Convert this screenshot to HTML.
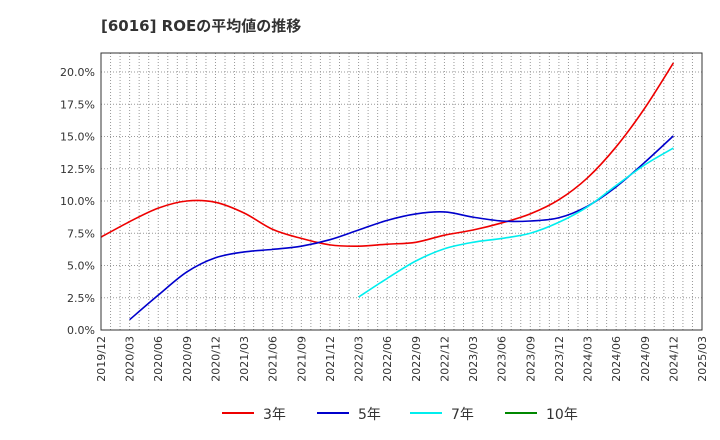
<!DOCTYPE html><html><head><meta charset="utf-8"><style>body{margin:0;background:#fff}svg{display:block;font-family:"DejaVu Sans","Noto Sans CJK JP",sans-serif}</style></head><body>
<svg id="c" width="720" height="440">
<text x="101" y="31" font-size="15" font-weight="bold" fill="#333">[6016]  ROEの平均値の推移</text>
<g id="grid"></g><g id="series"></g>
<rect x="101" y="53" width="601" height="277" fill="none" stroke="#333" stroke-width="1"/>
<g id="legend"></g>
</svg>
<script>
const xLabels=["2019/12","2020/03","2020/06","2020/09","2020/12","2021/03","2021/06","2021/09","2021/12","2022/03","2022/06","2022/09","2022/12","2023/03","2023/06","2023/09","2023/12","2024/03","2024/06","2024/09","2024/12","2025/03"];
const yTicks=[0,2.5,5,7.5,10,12.5,15,17.5,20];
const seriesNames=["3年","5年","7年","10年"];
const seriesColors=["#e00","#00c","#0ee","#080"];
const s3=[7.2,8.4,9.45,10.0,9.9,9.07,7.8,7.1,6.6,6.5,6.65,6.8,7.35,7.75,8.3,9.0,10.1,11.8,14.2,17.2,20.7];
const s5=[null,0.8,2.7,4.5,5.6,6.05,6.25,6.5,7.0,7.75,8.5,9.0,9.15,8.75,8.45,8.45,8.7,9.6,11.1,13.0,15.05];
const s7=[null,null,null,null,null,null,null,null,null,2.55,4.0,5.35,6.3,6.8,7.1,7.5,8.35,9.55,11.2,12.8,14.1];
const s10=[];
const NS="http://www.w3.org/2000/svg";
const L=101,R=702,T=53,B=330;
const xs=i=>L+i*(R-L)/21;
const ys=v=>B-v*(B-72)/20;
function mk(t,a,p){const e=document.createElementNS(NS,t);for(const k in a)e.setAttribute(k,a[k]);p.appendChild(e);return e;}
const g=document.getElementById('grid');
for(let m=1;m<63;m++){const x=L+m*(R-L)/63;const l=mk('line',{x1:x,x2:x,y1:T,y2:B,stroke:'#999','stroke-dasharray':'1,2','stroke-width':1},g);

}
yTicks.forEach(v=>{const y=ys(v);const l=mk('line',{x1:L,x2:R,y1:y,y2:y,stroke:'#999','stroke-dasharray':'1,2'},g);


const t=mk('text',{x:L-6,y:y+4,'text-anchor':'end','font-size':11,fill:'#333'},g);t.textContent=v.toFixed(1)+'%';

});
xLabels.forEach((s,i)=>{const x=xs(i);const t=mk('text',{transform:`translate(${x+4},${B+6}) rotate(-90)`,'text-anchor':'end','font-size':11,fill:'#333'},g);t.textContent=s;

});
function path(arr){const p=[];arr.forEach((v,i)=>{if(v!=null)p.push([xs(i),ys(v)]);});if(p.length<2)return '';
let d=`M${p[0][0]},${p[0][1]}`;for(let i=0;i<p.length-1;i++){const a=p[i-1]||p[i],b=p[i],c=p[i+1],e=p[i+2]||c;
d+=`C${b[0]+(c[0]-a[0])/6},${b[1]+(c[1]-a[1])/6} ${c[0]-(e[0]-b[0])/6},${c[1]-(e[1]-b[1])/6} ${c[0]},${c[1]}`;}return d;}
const sg=document.getElementById('series');
[s3,s5,s7,s10].forEach((arr,k)=>{const d=path(arr);if(!d)return;const e=mk('path',{d:d,fill:'none',stroke:seriesColors[k],'stroke-width':1.6},sg);

});
const lg=document.getElementById('legend');const lx=[222,317,410,505];
seriesNames.forEach((n,k)=>{const x=lx[k];mk('line',{x1:x,x2:x+32,y1:413,y2:413,stroke:seriesColors[k],'stroke-width':2},lg);
const t=mk('text',{x:x+41,y:419,'font-size':14,fill:'#333'},lg);t.textContent=n;

});
</script></body></html>
